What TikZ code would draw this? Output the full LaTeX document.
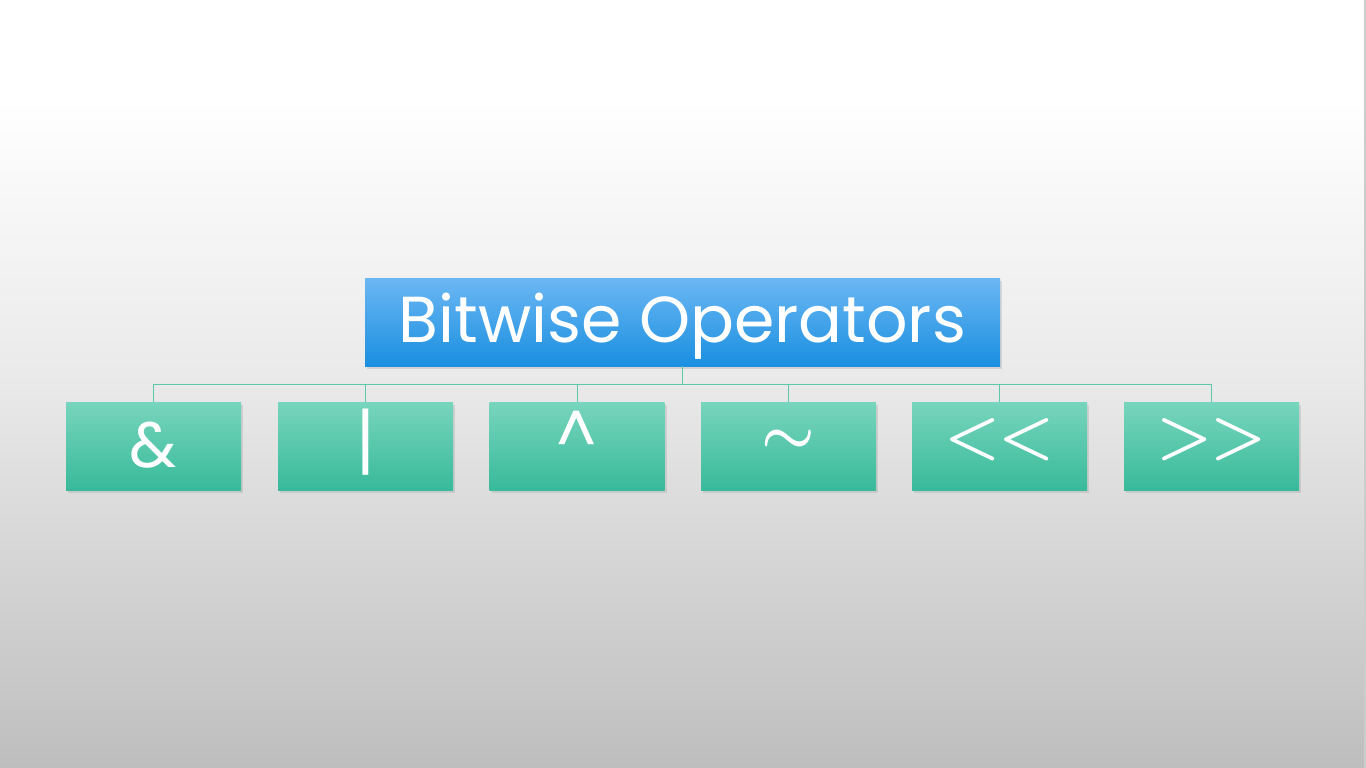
\documentclass[tikz,border=0pt]{standalone}
\usepackage{fontspec}
\setmainfont{Poppins}
\usetikzlibrary{shadows}
\definecolor{bgtop}{RGB}{255,255,255}
\definecolor{bgmid}{RGB}{233,233,233}
\definecolor{bgbot}{RGB}{190,190,190}
\definecolor{bluetop}{RGB}{108,183,243}
\definecolor{bluebot}{RGB}{26,143,224}
\definecolor{greentop}{RGB}{120,213,189}
\definecolor{greenbot}{RGB}{56,186,154}
\definecolor{linkcol}{RGB}{92,200,170}
\newcommand{\bigsym}[2]{\scalebox{#1}{\normalsize\boldmath$#2$}}
\tikzset{
  titlebox/.style={draw=none, top color=bluetop, bottom color=bluebot,
    minimum width=635pt, minimum height=88pt, inner sep=0pt,
    text=white, font=\fontsize{65}{75}\selectfont,
    text height=50pt, text depth=10pt,
    drop shadow={shadow xshift=2pt, shadow yshift=-3pt, opacity=0.22}},
  opbox/.style={draw=none, top color=greentop, bottom color=greenbot,
    minimum width=175pt, minimum height=88pt, inner sep=0pt,
    text=white, font=\fontsize{64}{72}\selectfont,
    text height=46pt, text depth=4pt,
    drop shadow={shadow xshift=2pt, shadow yshift=-3pt, opacity=0.22}},
  link/.style={draw=linkcol, line width=0.9pt}
}
\begin{document}
\begin{tikzpicture}[x=1pt,y=1pt]
\fill[bgtop] (0,0) rectangle (1366,-100);
\shade[top color=bgtop, bottom color=bgmid] (0,-100) rectangle (1366,-384.5);
\shade[top color=bgmid, bottom color=bgbot] (0,-384) rectangle (1366,-768);
\fill[black!20] (1363.5,0) rectangle (1366,-768);
\useasboundingbox (0,0) rectangle (1366,-768);
\node[titlebox] (top) at (682.5,-322) {Bitwise Operators};
\node[opbox] (c1) at (153.5,-446) {\&};
\node[opbox] (c2) at (365.5,-446) {\scalebox{1}[1.15]{|}};
\node[opbox] (c3) at (577,-446) {\raisebox{12pt}{\^{}}};
\node[opbox] (c4) at (788.5,-446) {\raisebox{14pt}{\bigsym{6}{\sim}}};
\node[opbox] (c5) at (999.5,-446) {\raisebox{11.5pt}{\bigsym{6.3}{<}\hspace{-2pt}\bigsym{6.3}{<}}};
\node[opbox] (c6) at (1211.5,-446) {\raisebox{11.5pt}{\bigsym{6.3}{>}\hspace{-2pt}\bigsym{6.3}{>}}};
\foreach \c in {c1,c2,c3,c4,c5,c6}{
  \draw[link] (top.south) -- ([yshift=-18.7pt]top.south) -| (\c.north);
}
\end{tikzpicture}
\end{document}
